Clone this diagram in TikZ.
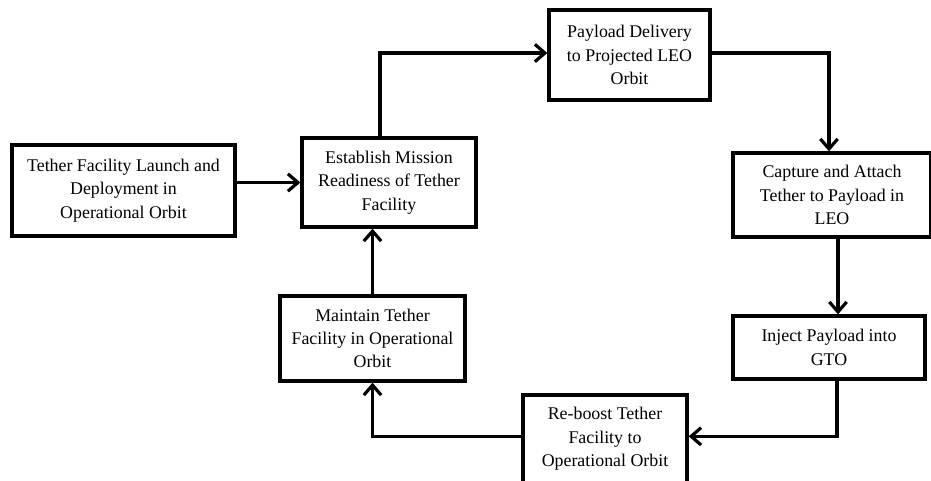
\documentclass[tikz,border=0pt]{standalone}
\usepackage{fontspec}
\setmainfont{Liberation Serif}
\usetikzlibrary{arrows.meta}
\begin{document}
\begin{tikzpicture}[x=0.75pt,y=-0.75pt,
  box/.style={draw, line width=2.5pt, align=center, font=\fontsize{13.4}{17.5}\selectfont, inner sep=0pt},
  arr/.style={line width=2.4pt, -{Straight Barb[length=7.5pt,width=13pt]}}]
\useasboundingbox (0,0) rectangle (931,480);
\node[box, minimum width=223*0.75pt, minimum height=91*0.75pt] (A) at (123.5,190.5) {Tether Facility Launch and\\Deployment in\\Operational Orbit};
\node[box, minimum width=174*0.75pt, minimum height=89*0.75pt] (B) at (389,182.5) {Establish Mission\\Readiness of Tether\\Facility};
\node[box, minimum width=161*0.75pt, minimum height=90*0.75pt] (C) at (629.5,55) {Payload Delivery\\to Projected LEO\\Orbit};
\node[box, minimum width=198*0.75pt, minimum height=84*0.75pt] (D) at (832,195) {Capture and Attach\\Tether to Payload in\\LEO};
\node[box, minimum width=192*0.75pt, minimum height=63*0.75pt] (E) at (829,347.5) {Inject Payload into\\GTO};
\node[box, minimum width=164*0.75pt, minimum height=88*0.75pt] (F) at (605,439) {Re-boost Tether\\Facility to\\Operational Orbit};
\node[box, minimum width=185*0.75pt, minimum height=85*0.75pt] (G) at (372.5,338.5) {Maintain Tether\\Facility in Operational\\Orbit};
\draw[arr] (B.west -| A.east) -- (B.west);
\draw[arr] ([xshift=-6.75pt]B.north) |- ([yshift=1.5pt]C.west);
\draw[arr] ([yshift=1.5pt]C.east) -| ([xshift=-2.25pt]D.north);
\draw[arr] ([xshift=4.5pt]D.south) -- ([xshift=4.5pt]D.south |- E.north);
\draw[arr] ([xshift=6pt]E.south) |- ([yshift=2pt]F.east);
\draw[arr] ([yshift=2pt]F.west) -| (G.south);
\draw[arr] (G.north) -- (G.north |- B.south);
\end{tikzpicture}
\end{document}
